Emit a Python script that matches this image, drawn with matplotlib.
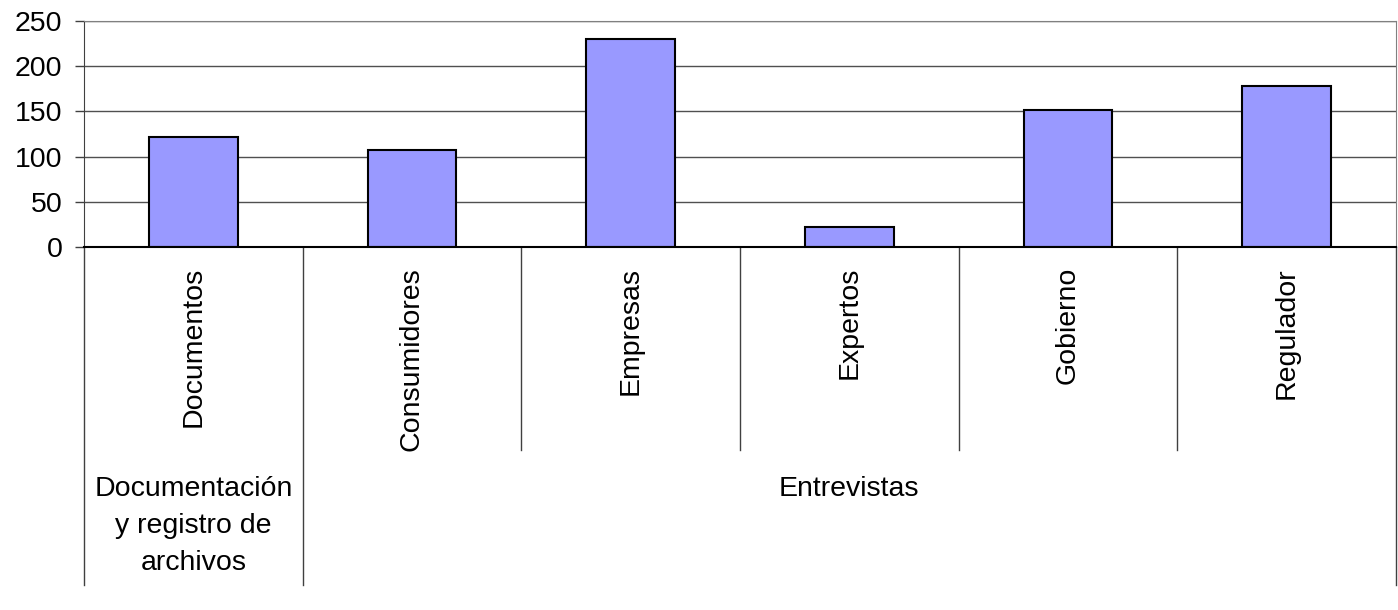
import matplotlib
matplotlib.use('Agg')
import matplotlib.pyplot as plt
import matplotlib.transforms as mtransforms

plt.rcParams['font.family'] = ['Liberation Sans', 'DejaVu Sans']

# datos del grafico
categorias = ['Documentos', 'Consumidores', 'Empresas', 'Expertos', 'Gobierno', 'Regulador']
valores = [122, 107, 230, 22, 152, 178]
grupos = ['Documentación\ny registro de\narchivos', 'Entrevistas']
tamano_grupos = [1, 5]
marcas_y = [0, 50, 100, 150, 200, 250]

fs = 20.5

fig = plt.figure(figsize=(13.98, 6.10), dpi=100)
ax = fig.add_axes([84/1398, 1 - 247/610, (1396 - 84)/1398, (247 - 21)/610])

x = list(range(len(categorias)))
ax.bar(x, valores, width=0.405, color='#9999FF', edgecolor='black', linewidth=1.5, zorder=3)

ax.set_xlim(-0.5, len(categorias) - 0.5)
ax.set_ylim(0, 250)
ax.set_yticks(marcas_y)
ax.tick_params(axis='y', direction='out', length=6.5, width=1, color='#404040', labelsize=fs, pad=9)
ax.set_xticks([])
ax.yaxis.grid(True, color='#505050', linewidth=1, zorder=0)

for lado in ['top', 'right']:
    ax.spines[lado].set_color('#808080')
ax.spines['left'].set_color('#404040')
ax.spines['bottom'].set_color('black')
ax.spines['bottom'].set_linewidth(1.5)
ax.spines['bottom'].set_zorder(4)

trans = mtransforms.blended_transform_factory(ax.transData, ax.transAxes)

# etiquetas de categorias
for i, nombre in enumerate(categorias):
    ax.text(i, -0.088, nombre, rotation=90, ha='center', va='top', fontsize=fs, transform=trans)

# lineas separadoras
inicio = 0
bordes_grupo = [-0.5]
for n in tamano_grupos:
    inicio += n
    bordes_grupo.append(inicio - 0.5)
for b in bordes_grupo:
    ax.plot([b, b], [0, -1.496], color='#404040', lw=1, transform=trans, clip_on=False)
for i in range(len(categorias) - 1):
    b = i + 0.5
    if b not in bordes_grupo:
        ax.plot([b, b], [0, -0.898], color='#404040', lw=1, transform=trans, clip_on=False)

# etiquetas de grupos
for g, nombre in enumerate(grupos):
    centro = (bordes_grupo[g] + bordes_grupo[g + 1]) / 2
    if '\n' in nombre:
        ax.text(centro, -1.235, nombre, ha='center', va='center', fontsize=fs,
                linespacing=1.55, transform=trans)
    else:
        ax.text(centro, -1.072, nombre, ha='center', va='center', fontsize=fs, transform=trans)

fig.savefig('out.png', dpi=100)
